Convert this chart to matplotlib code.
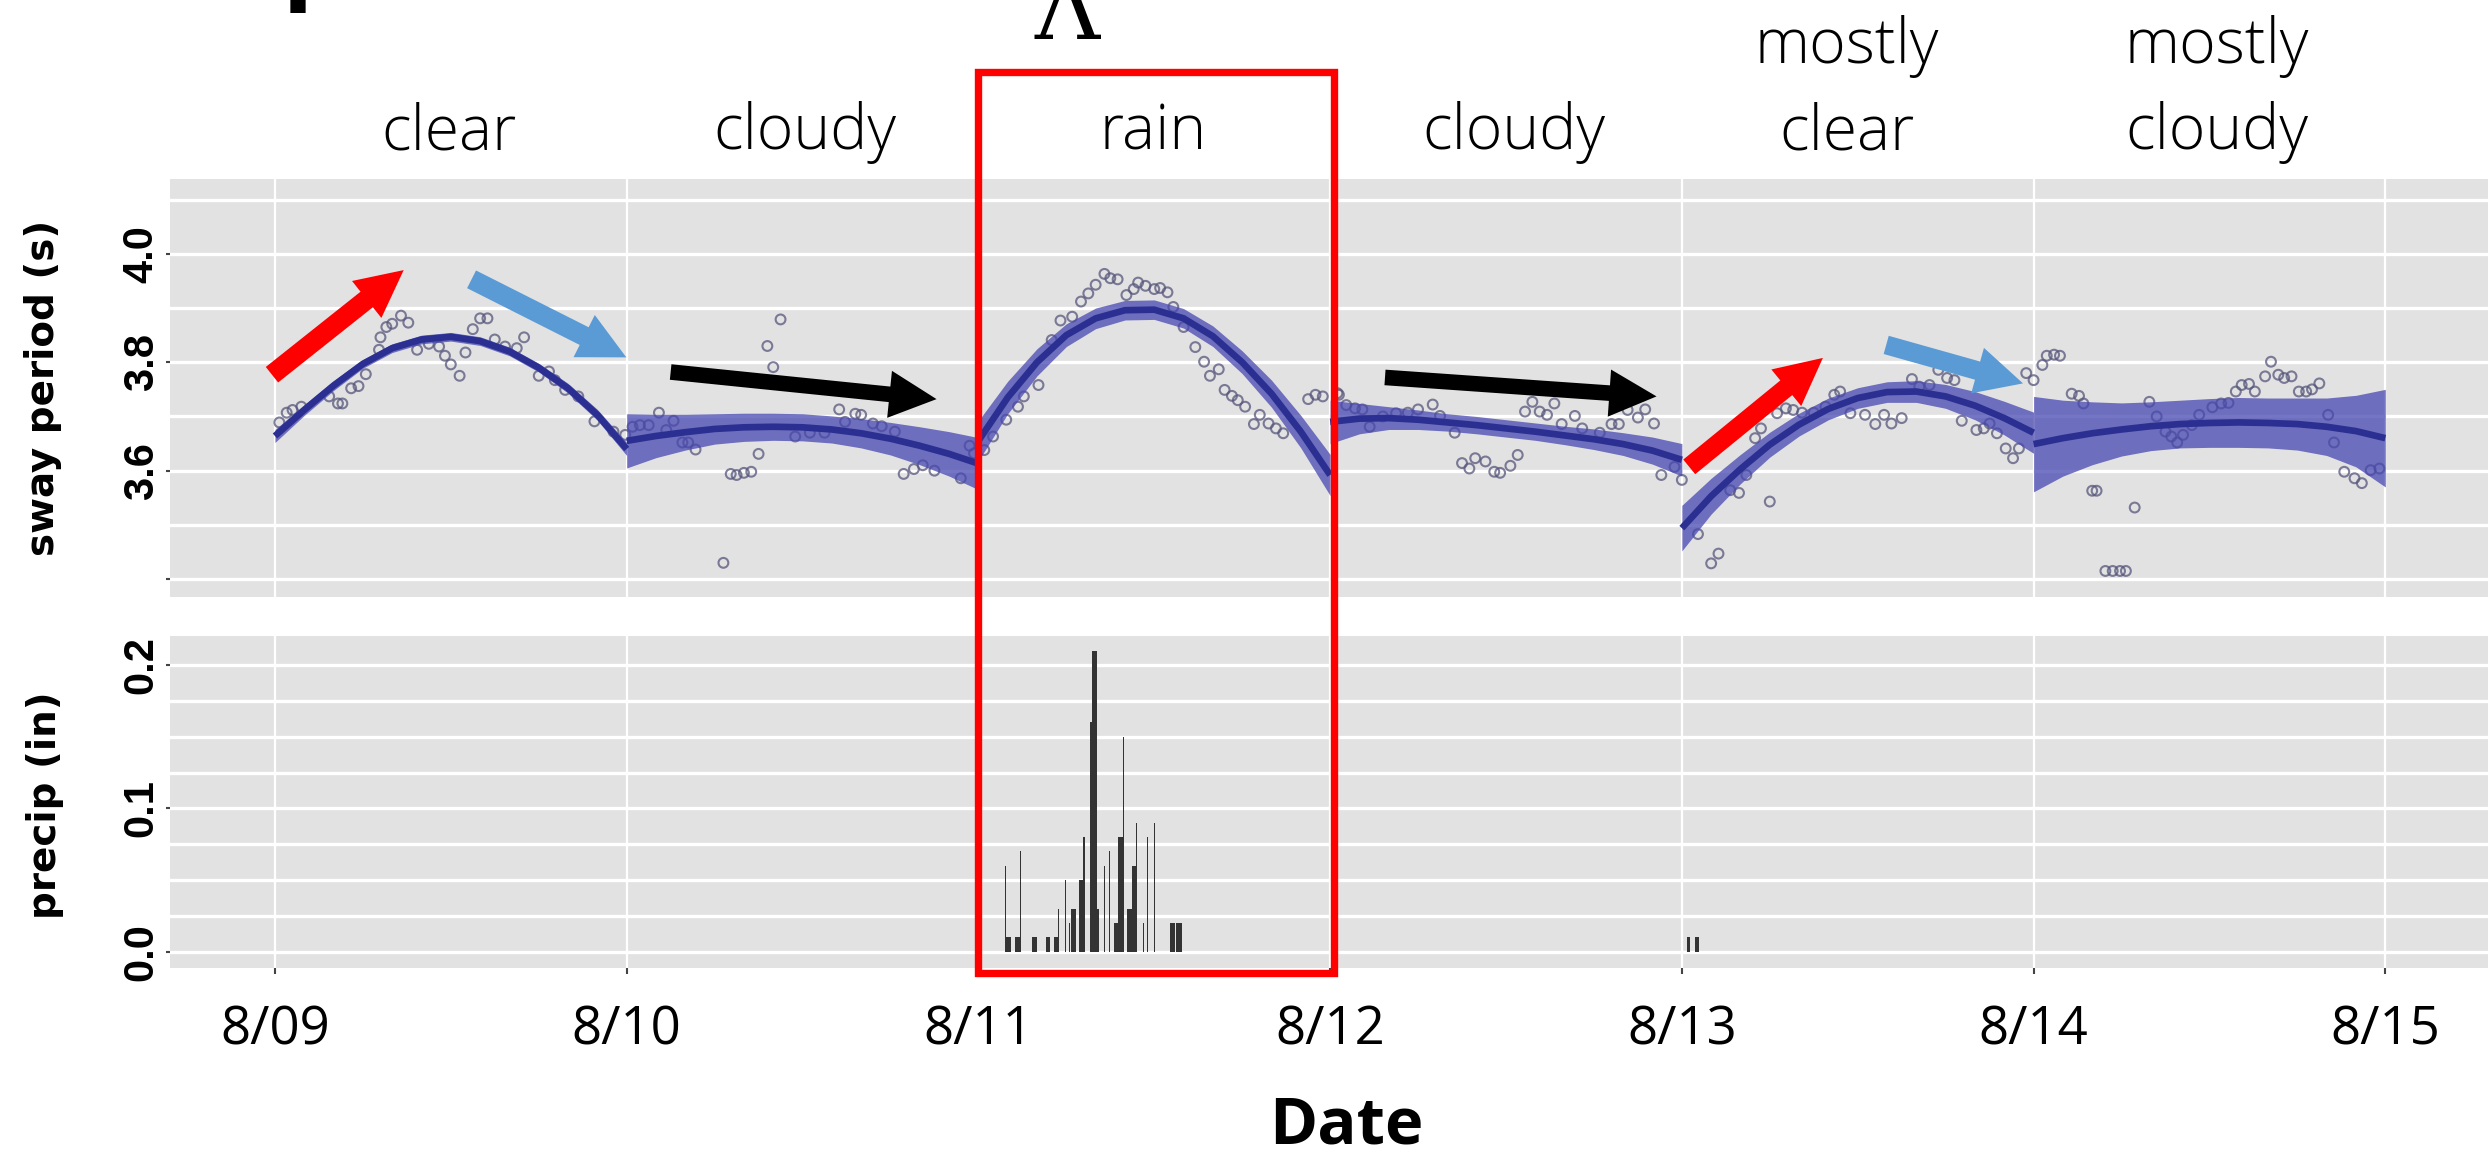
#!/usr/bin/env python3
import numpy as np
import matplotlib as mpl
mpl.use('Agg')
import matplotlib.pyplot as plt
import matplotlib.transforms as mtransforms
from matplotlib.patches import Rectangle
import pandas as pd

# ========================================================================
# Data
# ========================================================================
day_ticks = ['8/09', '8/10', '8/11', '8/12', '8/13', '8/14', '8/15']
sky = ['clear', 'cloudy', 'rain', 'cloudy', 'mostly\nclear', 'mostly\ncloudy']

# sway period samples, one list per day (hour of day, seconds)
sway_h = [
    [0.3, 0.8, 1.2, 1.8, 3.7, 4.3, 4.6, 5.2, 5.7, 6.2, 7.1, 7.2, 7.6, 8.0, 8.6, 9.1, 9.7,
     10.5, 11.2, 11.6, 12.0, 12.6, 13.0, 13.5, 14.0, 14.5, 15.0, 15.7, 16.5, 17.0, 18.0,
     18.7, 19.1, 19.8, 20.7, 21.8, 23.1, 23.9],
    [0.4, 0.9, 1.5, 2.2, 2.7, 3.2, 3.8, 4.2, 4.7, 6.6, 7.1, 7.5, 8.0, 8.5, 9.0, 9.6, 10.0,
     10.5, 11.5, 12.5, 13.5, 14.5, 14.9, 15.6, 16.0, 16.8, 17.4, 18.3, 18.9, 19.6, 20.2,
     21.0, 22.8, 23.4, 23.7],
    [0.4, 1.0, 1.9, 2.7, 3.1, 4.1, 5.0, 5.6, 6.4, 7.0, 7.5, 8.0, 8.6, 9.0, 9.5, 10.1, 10.6,
     10.9, 11.4, 12.0, 12.4, 12.9, 13.3, 14.0, 14.8, 15.4, 15.8, 16.4, 16.8, 17.3, 17.7,
     18.2, 18.8, 19.2, 19.8, 20.3, 20.8, 22.5, 23.0, 23.5],
    [0.5, 0.6, 1.1, 1.7, 2.2, 2.7, 3.6, 4.5, 5.3, 6.0, 7.0, 7.5, 8.5, 9.0, 9.5, 9.9, 10.6,
     11.2, 11.6, 12.3, 12.8, 13.3, 13.8, 14.3, 14.8, 15.3, 15.8, 16.7, 17.2, 18.4, 19.2,
     19.7, 20.3, 21.0, 21.5, 22.1, 22.6, 23.5, 24.0],
    [1.1, 2.0, 2.5, 3.3, 3.9, 4.4, 5.0, 5.4, 6.0, 6.5, 7.1, 7.6, 8.2, 9.0, 9.8, 10.4, 10.8,
     11.5, 12.5, 13.2, 13.8, 14.3, 15.0, 15.7, 16.2, 16.9, 17.5, 18.1, 18.6, 19.1, 20.1,
     20.6, 21.0, 21.5, 22.1, 22.6, 23.0, 23.5, 24.0],
    [0.6, 0.9, 1.4, 1.8, 2.6, 3.1, 3.4, 4.0, 4.3, 4.9, 5.4, 5.9, 6.3, 6.9, 7.9, 8.4, 9.0,
     9.4, 9.8, 10.2, 10.8, 11.3, 12.2, 12.8, 13.3, 13.8, 14.2, 14.7, 15.1, 15.8, 16.2,
     16.7, 17.1, 17.6, 18.1, 18.6, 19.0, 19.5, 20.1, 20.5, 21.2, 21.9, 22.4, 23.0, 23.6],
]
sway_v = [
    [3.689, 3.707, 3.712, 3.718, 3.737, 3.724, 3.724, 3.752, 3.756, 3.778, 3.823, 3.846,
     3.865, 3.871, 3.886, 3.873, 3.823, 3.834, 3.829, 3.812, 3.796, 3.775, 3.818, 3.861,
     3.881, 3.881, 3.842, 3.829, 3.826, 3.846, 3.775, 3.783, 3.767, 3.749, 3.737, 3.691,
     3.672, 3.666],
    [3.681, 3.684, 3.684, 3.707, 3.675, 3.692, 3.652, 3.652, 3.639, 3.430, 3.594, 3.592,
     3.596, 3.598, 3.631, 3.830, 3.791, 3.879, 3.663, 3.670, 3.670, 3.713, 3.690, 3.705,
     3.703, 3.687, 3.682, 3.672, 3.594, 3.603, 3.610, 3.600, 3.586, 3.646, 3.632],
    [3.638, 3.663, 3.694, 3.718, 3.737, 3.758, 3.841, 3.877, 3.884, 3.912, 3.927, 3.943,
     3.963, 3.955, 3.953, 3.924, 3.935, 3.947, 3.941, 3.935, 3.937, 3.929, 3.902, 3.865,
     3.828, 3.801, 3.775, 3.787, 3.749, 3.738, 3.730, 3.718, 3.686, 3.703, 3.687, 3.678,
     3.669, 3.732, 3.740, 3.737],
    [3.743, 3.740, 3.721, 3.715, 3.713, 3.681, 3.700, 3.706, 3.707, 3.713, 3.722, 3.701,
     3.670, 3.614, 3.604, 3.623, 3.617, 3.598, 3.596, 3.609, 3.629, 3.709, 3.727, 3.709,
     3.703, 3.724, 3.686, 3.701, 3.678, 3.670, 3.686, 3.686, 3.712, 3.698, 3.713, 3.687,
     3.592, 3.607, 3.583],
    [3.483, 3.429, 3.447, 3.564, 3.559, 3.592, 3.660, 3.678, 3.543, 3.706, 3.715, 3.712,
     3.707, 3.707, 3.718, 3.740, 3.746, 3.706, 3.703, 3.686, 3.703, 3.687, 3.697, 3.769,
     3.755, 3.758, 3.786, 3.771, 3.767, 3.692, 3.675, 3.678, 3.687, 3.669, 3.641, 3.623,
     3.641, 3.780, 3.767],
    [3.795, 3.812, 3.814, 3.812, 3.742, 3.738, 3.724, 3.563, 3.563, 3.415, 3.415, 3.415,
     3.415, 3.532, 3.727, 3.700, 3.672, 3.663, 3.652, 3.666, 3.684, 3.703, 3.717, 3.724,
     3.725, 3.746, 3.758, 3.760, 3.746, 3.774, 3.801, 3.777, 3.771, 3.774, 3.746, 3.746,
     3.750, 3.761, 3.703, 3.652, 3.598, 3.586, 3.577, 3.601, 3.604],
]

# smoothed fit for each day, every 2 hours, and its band half width
fit_h = [0, 2, 4, 6, 8, 10, 12, 14, 16, 18, 20, 22, 24]
fit_v = [
    [3.664, 3.712, 3.757, 3.797, 3.826, 3.842, 3.847, 3.839, 3.820, 3.790, 3.752, 3.703, 3.640],
    [3.655, 3.664, 3.671, 3.677, 3.680, 3.681, 3.680, 3.676, 3.669, 3.659, 3.646, 3.631, 3.613],
    [3.655, 3.735, 3.800, 3.850, 3.881, 3.896, 3.897, 3.881, 3.848, 3.800, 3.742, 3.672, 3.592],
    [3.690, 3.696, 3.697, 3.694, 3.689, 3.684, 3.678, 3.672, 3.665, 3.658, 3.649, 3.637, 3.620],
    [3.494, 3.553, 3.603, 3.648, 3.685, 3.714, 3.734, 3.745, 3.746, 3.737, 3.720, 3.697, 3.670],
    [3.649, 3.660, 3.669, 3.676, 3.682, 3.686, 3.688, 3.689, 3.688, 3.686, 3.681, 3.673, 3.660],
]
fit_se = [
    [0.012, 0.010, 0.009, 0.008, 0.008, 0.008, 0.008, 0.008, 0.008, 0.008, 0.009, 0.010, 0.012],
    [0.050, 0.040, 0.033, 0.028, 0.026, 0.025, 0.025, 0.025, 0.027, 0.030, 0.035, 0.041, 0.048],
    [0.037, 0.030, 0.025, 0.021, 0.019, 0.018, 0.018, 0.018, 0.019, 0.021, 0.025, 0.030, 0.038],
    [0.040, 0.028, 0.021, 0.018, 0.016, 0.016, 0.016, 0.016, 0.017, 0.019, 0.021, 0.025, 0.030],
    [0.042, 0.033, 0.027, 0.023, 0.021, 0.020, 0.019, 0.019, 0.020, 0.022, 0.026, 0.031, 0.038],
    [0.088, 0.070, 0.058, 0.049, 0.045, 0.044, 0.045, 0.046, 0.046, 0.048, 0.053, 0.066, 0.090],
]

# 5-minute precipitation
precip_time = [
    '8/11 01:50', '8/11 01:55', '8/11 02:00', '8/11 02:05', '8/11 02:10',
    '8/11 02:30', '8/11 02:35', '8/11 02:40', '8/11 02:45', '8/11 02:50',
    '8/11 03:40', '8/11 03:45', '8/11 03:50', '8/11 03:55',
    '8/11 04:35', '8/11 04:40', '8/11 04:45', '8/11 04:50',
    '8/11 05:10', '8/11 05:15', '8/11 05:20', '8/11 05:25', '8/11 05:55', '8/11 06:10',
    '8/11 06:20', '8/11 06:25', '8/11 06:30', '8/11 06:35',
    '8/11 06:50', '8/11 06:55', '8/11 07:00', '8/11 07:05', '8/11 07:10',
    '8/11 07:35', '8/11 07:40', '8/11 07:45', '8/11 07:50', '8/11 07:55', '8/11 08:00',
    '8/11 08:05', '8/11 08:10', '8/11 08:35', '8/11 08:55',
    '8/11 09:15', '8/11 09:20', '8/11 09:25',
    '8/11 09:30', '8/11 09:35', '8/11 09:40', '8/11 09:45', '8/11 09:50',
    '8/11 10:10', '8/11 10:15', '8/11 10:20', '8/11 10:25',
    '8/11 10:30', '8/11 10:35', '8/11 10:40', '8/11 10:45',
    '8/11 11:15', '8/11 11:30', '8/11 12:00',
    '8/11 13:05', '8/11 13:10', '8/11 13:15', '8/11 13:20',
    '8/11 13:30', '8/11 13:35', '8/11 13:40', '8/11 13:45', '8/11 13:50',
    '8/13 00:20', '8/13 00:25', '8/13 00:30', '8/13 00:55', '8/13 01:00', '8/13 01:05',
]
precip_in = [
    0.06, 0.01, 0.01, 0.01, 0.01,
    0.01, 0.01, 0.01, 0.01, 0.07,
    0.01, 0.01, 0.01, 0.01,
    0.01, 0.01, 0.01, 0.01,
    0.01, 0.01, 0.01, 0.03, 0.05, 0.02,
    0.03, 0.03, 0.03, 0.03,
    0.05, 0.05, 0.05, 0.05, 0.08,
    0.16, 0.16, 0.21, 0.21, 0.21, 0.21,
    0.03, 0.03, 0.06, 0.07,
    0.02, 0.02, 0.02,
    0.08, 0.08, 0.08, 0.08, 0.15,
    0.03, 0.03, 0.03, 0.03,
    0.06, 0.06, 0.06, 0.09,
    0.02, 0.08, 0.09,
    0.02, 0.02, 0.02, 0.02,
    0.02, 0.02, 0.02, 0.02, 0.02,
    0.01, 0.01, 0.01, 0.01, 0.01, 0.01,
]

# hand-drawn trend arrows: (tail), (tip), colour, shaft width
arrows = [
    ((-0.0085, 3.777), (0.366, 3.970), '#ff0000', 0.42),
    ((0.559, 3.953), (0.999, 3.809), '#5b9bd5', 0.42),
    ((1.125, 3.782), (1.881, 3.732), '#000000', 0.33),
    ((3.156, 3.772), (3.928, 3.737), '#000000', 0.33),
    ((4.021, 3.607), (4.401, 3.808), '#ff0000', 0.40),
    ((4.581, 3.832), (4.970, 3.761), '#5b9bd5', 0.40),
]

# ========================================================================
# Style
# ========================================================================
panel_bg = '#e2e2e2'
navy = '#2b2f91'
band = '#4747b2'
label_font = 'Open Sans'
tick_font = 'Liberation Sans'

fig = plt.figure(figsize=(24.88, 11.61), dpi=100)
ax1 = fig.add_axes([0.0683, 0.4858, 0.9317, 0.3600])
ax2 = fig.add_axes([0.0683, 0.1662, 0.9317, 0.2860], sharex=ax1)

t0 = pd.Timestamp('2000-08-09')
ptime = pd.to_datetime(['2000/' + s for s in precip_time], format='%Y/%m/%d %H:%M')
pday = np.asarray((ptime - t0) / pd.Timedelta(days=1))

# ---- sway period panel
for d in range(6):
    x = d + np.array(sway_h[d]) / 24.
    ax1.scatter(x, sway_v[d], s=50, facecolors='none', edgecolors='#56567c',
                linewidths=1.5, alpha=0.75, zorder=3)
    xf = d + np.array(fit_h) / 24.
    fv = np.array(fit_v[d])
    fs = np.array(fit_se[d])
    ax1.fill_between(xf, fv - fs, fv + fs, color=band, alpha=0.75, lw=0, zorder=4)
    ax1.plot(xf, fv, color=navy, lw=4.8, solid_capstyle='butt', solid_joinstyle='round',
             zorder=5)

for tail, tip, c, tw in arrows:
    ax1.annotate('', xy=tip, xytext=tail, zorder=6,
                 arrowprops=dict(arrowstyle='simple,head_length=1.0,head_width=1.0,tail_width=%g' % tw,
                                 mutation_scale=34, color=c, lw=0, shrinkA=0, shrinkB=0))

ax1.set_ylim(3.367, 4.138)
ax1.set_yticks([3.4, 3.6, 3.8, 4.0])
ax1.set_yticklabels(['', '3.6', '3.8', '4.0'], family=tick_font, fontsize=30,
                    fontweight='bold', rotation=90, va='center')
ax1.set_yticks([3.5, 3.7, 3.9, 4.1], minor=True)

# ---- precipitation panel
ax2.bar(pday, precip_in, width=5 / 1440., align='edge', color='#333333', lw=0, zorder=3)
ax2.set_ylim(-0.0114, 0.2203)
ax2.set_yticks([0.0, 0.1, 0.2])
ax2.set_yticklabels(['0.0', '0.1', '0.2'], family=tick_font, fontsize=30,
                    fontweight='bold', rotation=90, va='center')
ax2.set_yticks([0.025, 0.05, 0.075, 0.125, 0.15, 0.175], minor=True)

ax2.set_xlim(-0.2986, 6.292)
ax2.set_xticks(range(len(day_ticks)))
ax2.set_xticklabels(day_ticks, family=label_font, fontsize=38)

for ax in (ax1, ax2):
    ax.set_facecolor(panel_bg)
    ax.set_axisbelow(True)
    for s in ax.spines.values():
        s.set_visible(False)
    ax.grid(True, which='both', axis='y', color='white', lw=2.4)
    ax.grid(True, which='major', axis='x', color='white', lw=1.6)
    ax.tick_params(axis='y', which='major', length=3, width=1.5, color='#444444', pad=3)
    ax.tick_params(axis='y', which='minor', length=0)

ax1.tick_params(axis='x', length=0, labelbottom=False)
ax2.tick_params(axis='x', length=4, width=1.5, color='#444444', pad=22)

# ---- labels
fig.text(43 / 2488., 1 - 388 / 1161., 'sway period (s)', rotation=90, ha='center', va='center',
         fontsize=28, fontweight='bold')
fig.text(45 / 2488., 1 - 805 / 1161., 'precip (in)', rotation=90, ha='center', va='center',
         fontsize=28, fontweight='bold')
fig.text(1346 / 2488., 1 - 1143 / 1161., 'Date', ha='center', va='baseline',
         family=label_font, fontsize=47, fontweight='bold')

# sky condition over each day
label_x = [0.495, 1.507, 2.496, 3.523, 4.47, 5.52]
trans = mtransforms.blended_transform_factory(ax1.transData, fig.transFigure)
for xl, s in zip(label_x, sky):
    lines = s.split('\n')
    for k, line in enumerate(reversed(lines)):
        fig.text(xl, 1 - (149 - 86 * k) / 1161., line, transform=trans, ha='center',
                 va='baseline', family=label_font, fontweight='light', fontsize=45)

# red box round the rain day
fig.add_artist(Rectangle((2.0, 0.1615), 1.01, 0.7765, transform=trans, fill=False,
                         ec='#ff0000', lw=5.3, zorder=10, clip_on=False))

# cut-off glyphs from the page above
fig.text(283 / 2488., 1.0047, 'p', ha='left', va='baseline', fontsize=63,
         fontweight='bold', color='black')
fig.text(1067 / 2488., 1 - 39 / 1161., '\u039b', ha='center', va='baseline',
         family='DejaVu Serif', fontsize=65, color='black')

fig.savefig('out.png', dpi=100)
